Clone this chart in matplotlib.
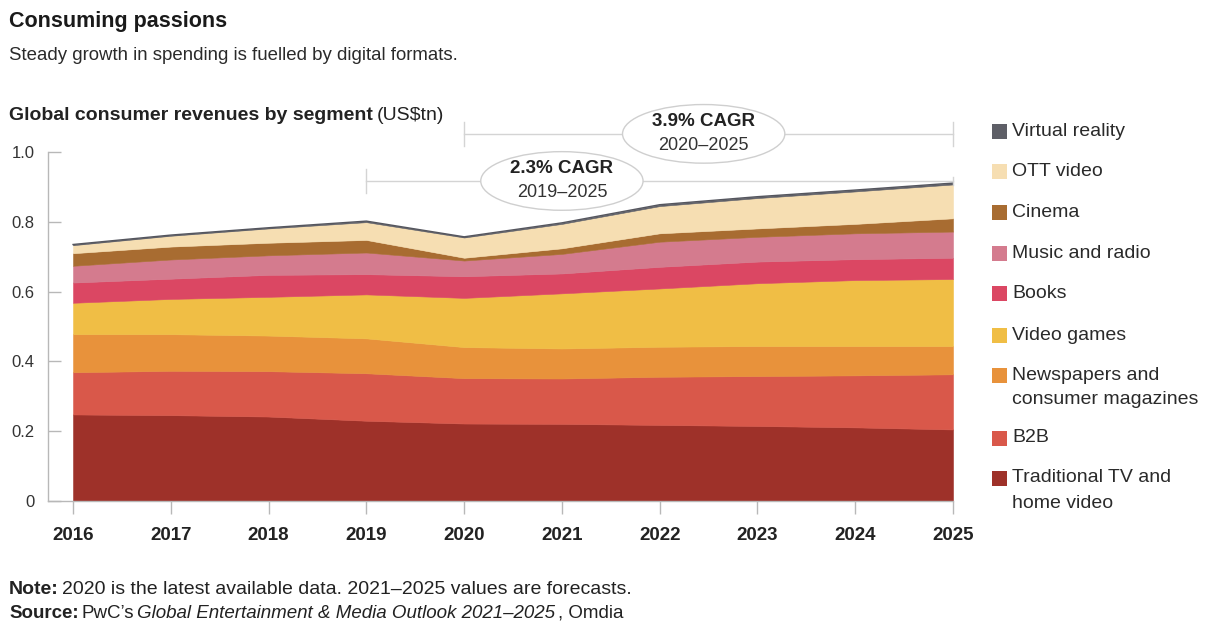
import matplotlib
matplotlib.use("Agg")
import matplotlib.pyplot as plt
from matplotlib.patches import Ellipse, Rectangle
import numpy as np

plt.rcParams["font.family"] = ["Liberation Sans", "DejaVu Sans"]

# ---- data (US$ trillion) ----
years = [2016, 2017, 2018, 2019, 2020, 2021, 2022, 2023, 2024, 2025]
segments = ["Traditional TV and\nhome video", "B2B", "Newspapers and\nconsumer magazines",
            "Video games", "Books", "Music and radio", "Cinema", "OTT video", "Virtual reality"]
traditional_tv = [0.248, 0.246, 0.242, 0.230, 0.222, 0.221, 0.218, 0.215, 0.211, 0.205]
b2b            = [0.121, 0.127, 0.130, 0.136, 0.130, 0.130, 0.138, 0.143, 0.149, 0.158]
newspapers     = [0.109, 0.105, 0.102, 0.100, 0.089, 0.086, 0.086, 0.086, 0.084, 0.081]
video_games    = [0.090, 0.101, 0.111, 0.126, 0.141, 0.158, 0.167, 0.180, 0.189, 0.192]
books          = [0.058, 0.058, 0.063, 0.058, 0.062, 0.057, 0.062, 0.062, 0.060, 0.061]
music_radio    = [0.048, 0.055, 0.056, 0.062, 0.045, 0.056, 0.072, 0.071, 0.074, 0.075]
cinema         = [0.036, 0.037, 0.036, 0.036, 0.008, 0.016, 0.024, 0.024, 0.027, 0.038]
ott_video      = [0.023, 0.031, 0.041, 0.051, 0.058, 0.070, 0.078, 0.087, 0.093, 0.097]
virtual_real   = [0.002, 0.002, 0.002, 0.003, 0.002, 0.003, 0.004, 0.004, 0.004, 0.004]
series = [traditional_tv, b2b, newspapers, video_games, books, music_radio,
          cinema, ott_video, virtual_real]
colors = ["#9E3129", "#D9584A", "#E8923B", "#F0BE45", "#DB4763", "#D47B8E",
          "#A86C31", "#F6DEB2", "#5E5F67"]
yticks = [0, 0.2, 0.4, 0.6, 0.8, 1.0]
ytick_labels = ["0", "0.2", "0.4", "0.6", "0.8", "1.0"]
cagr_notes = [("3.9% CAGR", "2020\u20132025", 2020), ("2.3% CAGR", "2019\u20132025", 2019)]

W, H = 1209, 626
fig = plt.figure(figsize=(W / 100, H / 100), dpi=100)
fig.patch.set_facecolor("white")


def fx(px):
    return px / W


def fy(py):
    return 1 - py / H


ax = fig.add_axes([fx(48), fy(501), fx(953) - fx(48), fy(152) - fy(501)])

# stacked segments, bottom to top
base = np.zeros(len(years))
for vals, col in zip(series, colors):
    top = base + np.array(vals)
    ax.fill_between(years, base, top, facecolor=col, edgecolor=col, linewidth=0.4)
    base = top
ax.plot(years, base, color="#55565e", linewidth=1.0)

ax.set_xlim(2015.744, 2025)
ax.set_ylim(0, 1.0)
for s in ["top", "right"]:
    ax.spines[s].set_visible(False)
for s in ["left", "bottom"]:
    ax.spines[s].set_color("#b8b8b8")
    ax.spines[s].set_linewidth(1.0)

ax.set_yticks(yticks)
ax.set_yticklabels(ytick_labels)
ax.tick_params(axis="y", direction="in", length=9, width=1.0, color="#b8b8b8",
               pad=9.5, labelsize=12, labelcolor="#333333")
ax.set_xticks(years)
ax.set_xticklabels([str(y) for y in years], fontweight="bold")
ax.tick_params(axis="x", direction="out", length=9, width=1.0, color="#b8b8b8",
               pad=10, labelsize=13.5, labelcolor="#222222")

# CAGR brackets with ellipse labels
line_col = "#d4d4d4"
bracket_y = [1.052, 0.917]
ell_x = [2022.45, 2021.0]
cap_right = [0.035, 0.012]
for (head, span, start), yv, ex, cr in zip(cagr_notes, bracket_y, ell_x, cap_right):
    ax.plot([start, 2025], [yv, yv], color=line_col, lw=1.0, clip_on=False, zorder=3)
    ax.plot([start, start], [yv - 0.035, yv + 0.035], color=line_col, lw=1.0, clip_on=False, zorder=3)
    ax.plot([2025, 2025], [yv - cr, yv + cr], color=line_col, lw=1.0, clip_on=False, zorder=3)
    e = Ellipse((ex, yv), width=1.66, height=0.168, facecolor="white",
                edgecolor="#cfcfcf", lw=1.0, clip_on=False, zorder=4)
    ax.add_patch(e)
    ax.text(ex, yv + 0.035, head, ha="center", va="center", fontsize=13.5,
            fontweight="bold", color="#222222", zorder=5, clip_on=False)
    ax.text(ex, yv - 0.034, span, ha="center", va="center", fontsize=13,
            color="#333333", zorder=5, clip_on=False)

# legend (top to bottom)
legend_y = [131.7, 171.7, 212.7, 253.3, 293.3, 335, 375, 438, 478]
for name, col, ly in zip(segments[::-1], colors[::-1], legend_y):
    fig.add_artist(Rectangle((fx(992), fy(ly + 7.5)), fx(15), 15 / H,
                             facecolor=col, edgecolor="none", transform=fig.transFigure))
    for i, line in enumerate(name.split("\n")):
        fig.text(fx(1012), fy(ly + 25 * i), line, ha="left", va="center",
                 fontsize=14, color="#2a2a2a")

renderer = fig.canvas.get_renderer()


def rich(x_px, y_px, parts, size, gap=4):
    x = x_px
    for txt, kw in parts:
        t = fig.text(fx(x), fy(y_px), txt, fontsize=size, va="center", ha="left",
                     color="#222222", **kw)
        x += t.get_window_extent(renderer).width + gap


# titles
fig.text(fx(9), fy(22), "Consuming passions", fontsize=15.5, fontweight="bold",
         va="center", color="#1a1a1a")
fig.text(fx(9), fy(55), "Steady growth in spending is fuelled by digital formats.",
         fontsize=13.4, va="center", color="#2a2a2a")
rich(9, 115, [("Global consumer revenues by segment", {"fontweight": "bold"}),
              ("(US$tn)", {})], 14)

# footnotes
rich(9, 590, [("Note:", {"fontweight": "bold"}),
              ("2020 is the latest available data. 2021\u20132025 values are forecasts.", {})],
     14, gap=3)
rich(9, 613, [("Source:", {"fontweight": "bold"}),
              ("PwC\u2019s", {}),
              ("Global Entertainment & Media Outlook 2021\u20132025", {"fontstyle": "italic"}),
              (", Omdia", {})], 13.5, gap=3)

fig.savefig("out.png", dpi=100)
